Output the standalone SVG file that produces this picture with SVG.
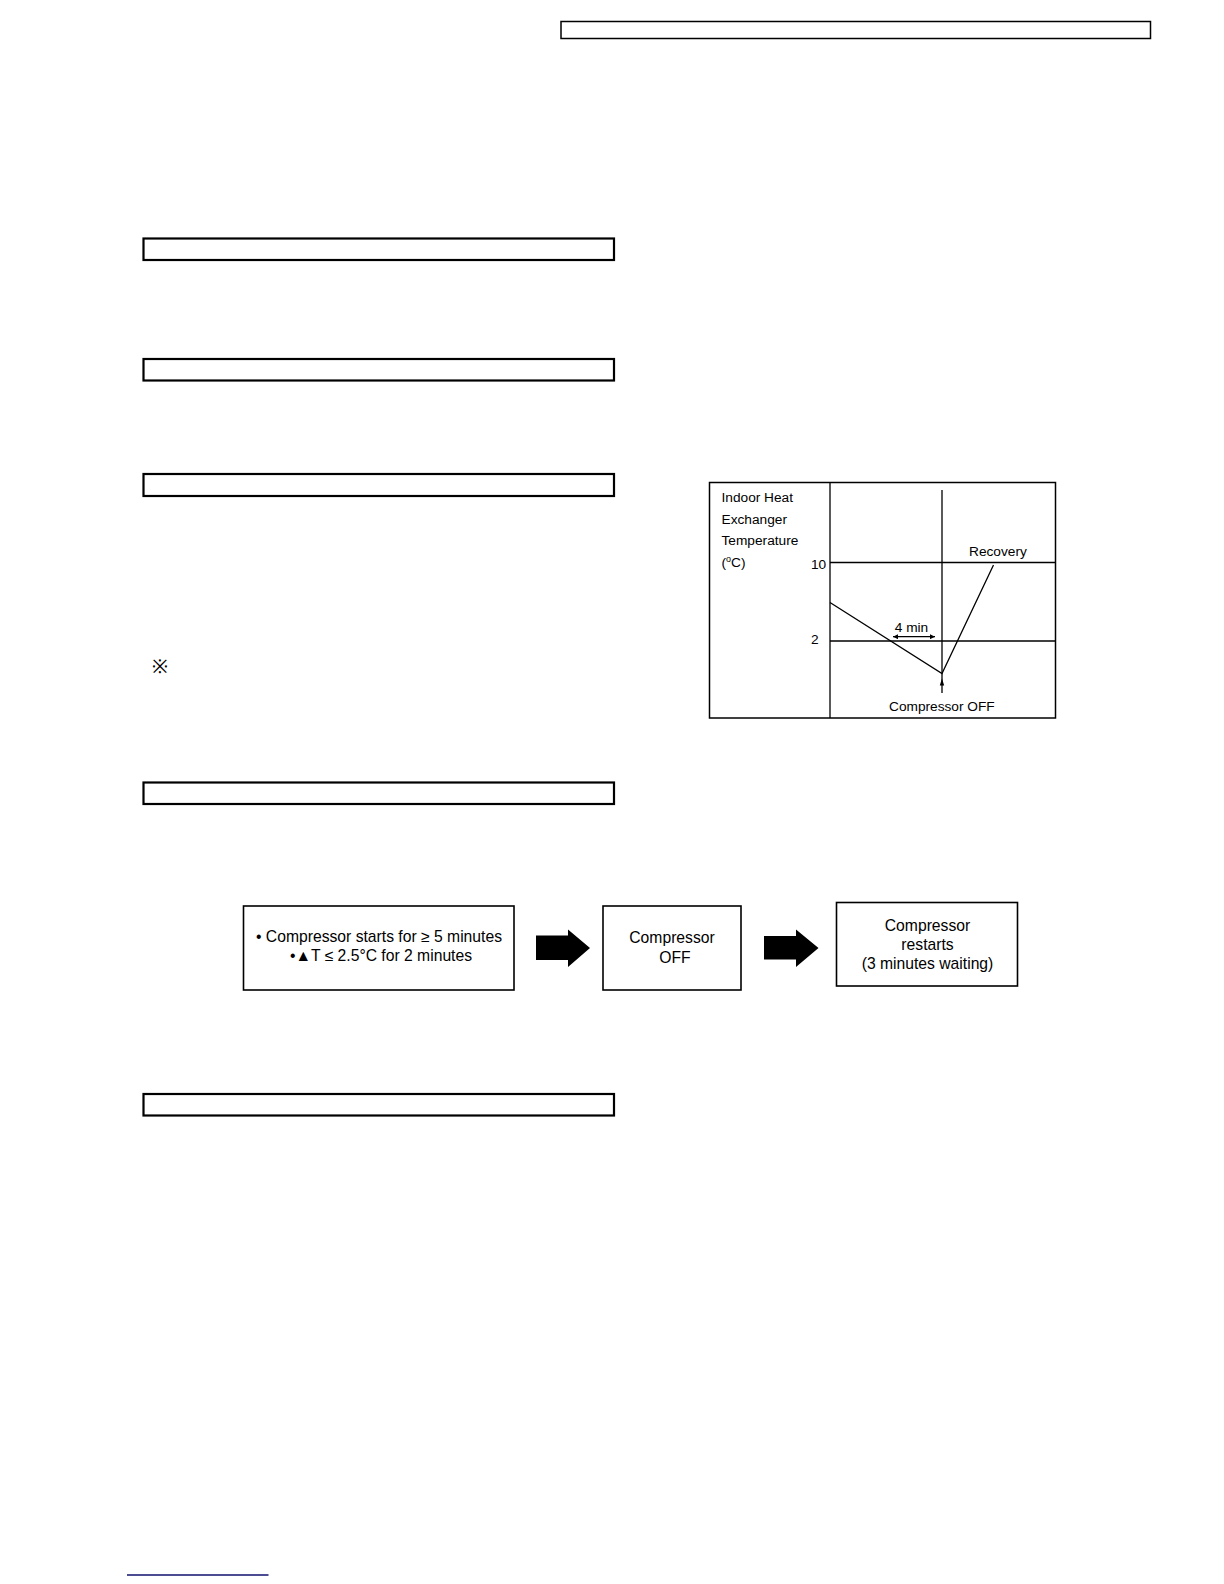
<svg xmlns="http://www.w3.org/2000/svg" width="1224" height="1584" viewBox="0 0 1224 1584">
<style>
.sec{fill:none;stroke:#000;stroke-width:2.2}
.box{fill:#fff;stroke:#000;stroke-width:1.6}
.ln{fill:none;stroke:#000;stroke-width:1.3}
.t{font-family:"Liberation Sans",Arial,sans-serif;fill:#000}
.ct{font-size:13.7px}
.ft{font-size:15.7px;text-anchor:middle}
</style>
<defs>
<marker id="ah" viewBox="0 0 10 10" refX="10" refY="5" markerWidth="7" markerHeight="5" markerUnits="userSpaceOnUse" orient="auto-start-reverse">
<path d="M0,0 L10,5 L0,10 z" fill="#000"/>
</marker>
</defs>
<rect width="1224" height="1584" fill="#fff"/>
<g id="header-bar"><rect x="561" y="21.5" width="589.5" height="17" fill="none" stroke="#000" stroke-width="1.5"/></g>
<g id="section-boxes">
<rect class="sec" x="143.5" y="238.5" width="470.5" height="21.5"/>
<rect class="sec" x="143.5" y="359" width="470.5" height="21.5"/>
<rect class="sec" x="143.5" y="474" width="470.5" height="22"/>
<rect class="sec" x="143.5" y="782.5" width="470.5" height="21.5"/>
<rect class="sec" x="143.5" y="1094" width="470.5" height="21.5"/>
</g>
<g id="note-mark"><text class="t" x="160" y="673" font-size="19" text-anchor="middle" font-family="'Noto Sans CJK JP',sans-serif">※</text></g>
<g id="chart">
<rect x="709.5" y="482.5" width="346" height="235.5" fill="none" stroke="#000" stroke-width="1.5"/>
<line class="ln" x1="830" y1="482.5" x2="830" y2="718"/>
<line class="ln" x1="830" y1="562.5" x2="1055.5" y2="562.5"/>
<line class="ln" x1="830" y1="641" x2="1055.5" y2="641"/>
<line class="ln" x1="942" y1="490" x2="942" y2="693"/>
<polyline class="ln" points="830,602.5 942,673.5 993.5,565"/>
<polygon points="942,678.5 939.8,685.5 944.2,685.5" fill="#000"/>
<line class="ln" x1="893" y1="636.7" x2="935" y2="636.7" stroke-width="1.1" marker-start="url(#ah)" marker-end="url(#ah)"/>
<text class="t ct" x="721.5" y="502">Indoor Heat</text>
<text class="t ct" x="721.5" y="523.5">Exchanger</text>
<text class="t ct" x="721.5" y="545">Temperature</text>
<text class="t ct" x="721.5" y="566.5">(<tspan font-size="9" dy="-5">o</tspan><tspan dy="5">C)</tspan></text>
<text class="t ct" x="811" y="569">10</text>
<text class="t ct" x="811" y="643.5">2</text>
<text class="t ct" x="969" y="556">Recovery</text>
<text class="t ct" x="911.5" y="631.5" text-anchor="middle">4 min</text>
<text class="t ct" x="889" y="711">Compressor OFF</text>
</g>
<g id="node-condition">
<rect class="box" x="243.5" y="906" width="270.5" height="84"/>
<text class="t ft" x="379" y="941.5">• Compressor starts for ≥ 5 minutes</text>
<text class="t ft" x="381" y="961">•▲T ≤ 2.5°C for 2 minutes</text>
</g>
<g id="node-off">
<rect class="box" x="603" y="906" width="138" height="84"/>
<text class="t ft" x="672" y="943.3">Compressor</text>
<text class="t ft" x="675" y="963.3">OFF</text>
</g>
<g id="node-restart">
<rect class="box" x="836.5" y="902.5" width="181" height="83.5"/>
<text class="t ft" x="927.5" y="931">Compressor</text>
<text class="t ft" x="927.5" y="950">restarts</text>
<text class="t ft" x="927.5" y="969.3">(3 minutes waiting)</text>
</g>
<g id="connectors">
<polygon points="536,935.5 568,935.5 568,929.5 590,948 568,967 568,960 536,960" fill="#000"/>
<polygon points="764,936 796,936 796,929.5 818.5,948 796,967 796,959.5 764,959.5" fill="#000"/>
</g>
<g id="footer-link"><line x1="127" y1="1575" x2="268.5" y2="1575" stroke="#10106e" stroke-width="1.5"/></g>
</svg>
